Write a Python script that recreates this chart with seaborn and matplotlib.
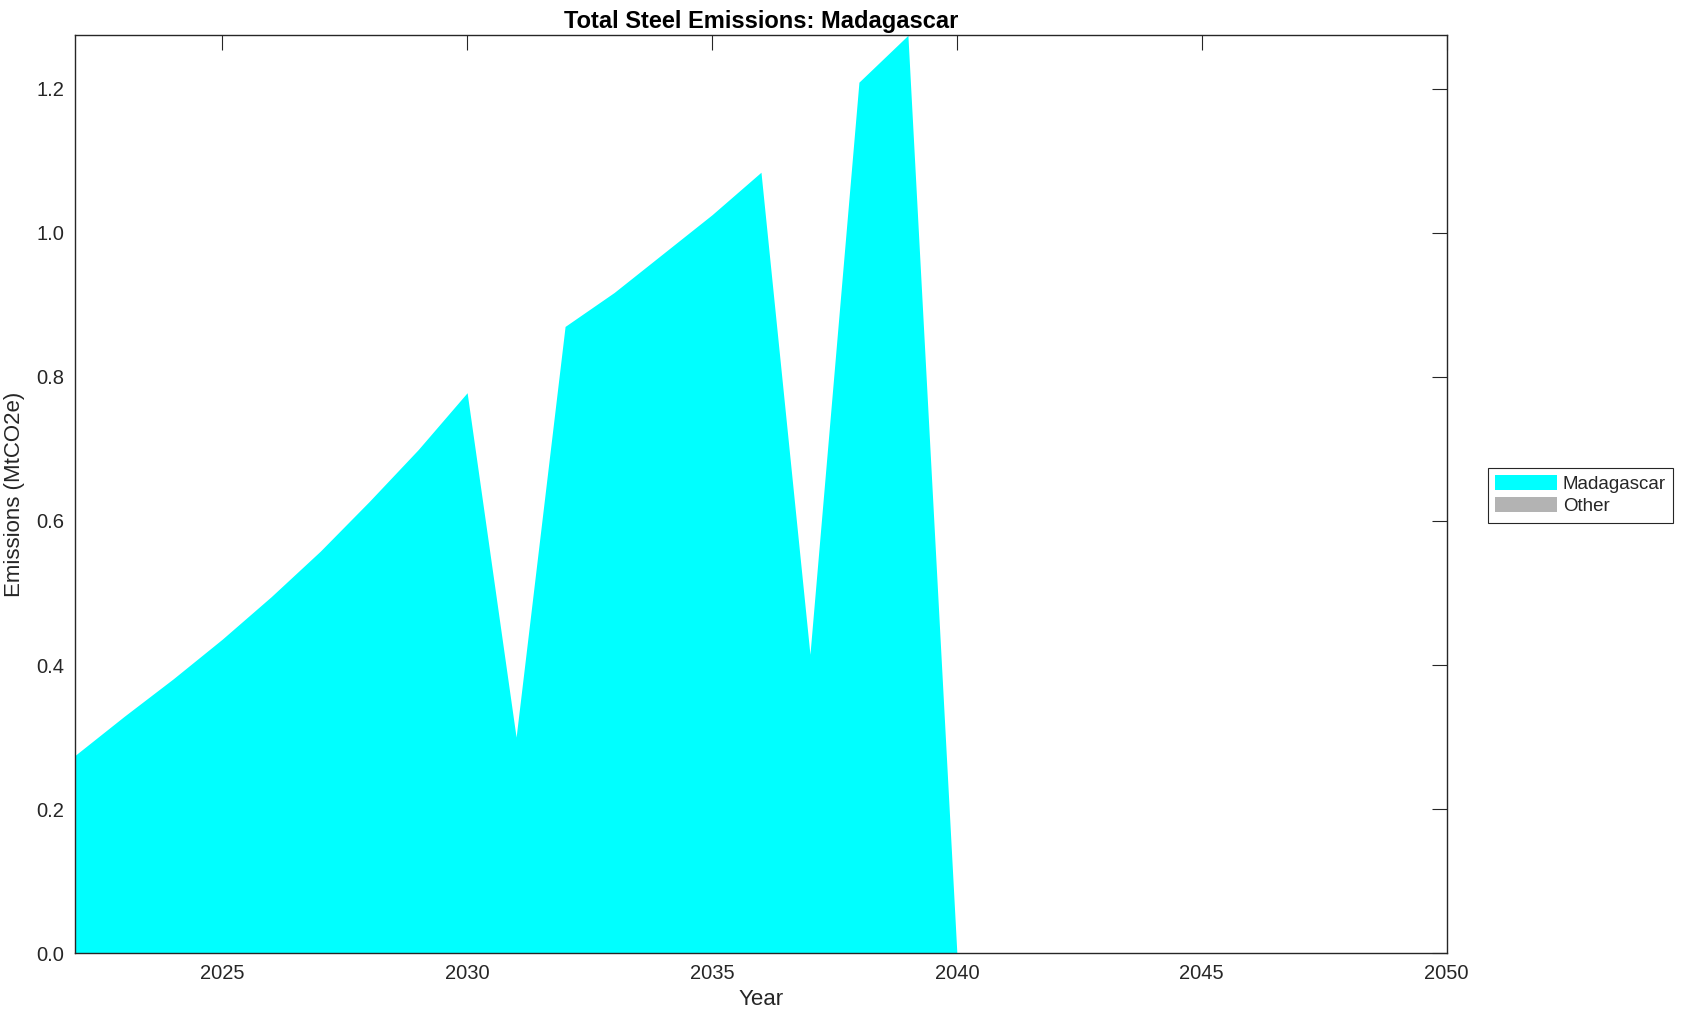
import matplotlib
matplotlib.use("Agg")
import matplotlib.pyplot as plt
import pandas as pd
import seaborn as sns

# Data
years = list(range(2022, 2051))
madagascar = [0.275, 0.329, 0.381, 0.436, 0.495, 0.558, 0.627, 0.699, 0.778,
              0.300, 0.870, 0.917, 0.971, 1.025, 1.084, 0.415, 1.209, 1.274,
              0.0, 0.0, 0.0, 0.0, 0.0, 0.0, 0.0, 0.0, 0.0, 0.0, 0.0]
other = [0.0] * len(years)
series_names = ["Madagascar", "Other"]
series_colors = ["#00ffff", "#b3b3b3"]
x_ticks = [2025, 2030, 2035, 2040, 2045, 2050]
y_ticks = [0.0, 0.2, 0.4, 0.6, 0.8, 1.0, 1.2]

df = pd.DataFrame({"Year": years, "Madagascar": madagascar, "Other": other})

sns.set_theme(style="white")
plt.rcParams["font.family"] = ["Liberation Sans", "DejaVu Sans"]
plt.rcParams["text.color"] = "#262626"
plt.rcParams["axes.labelcolor"] = "#262626"
plt.rcParams["xtick.color"] = "#262626"
plt.rcParams["ytick.color"] = "#262626"

fig = plt.figure(figsize=(16.89, 10.21), dpi=100)
ax = fig.add_axes([0.0446, 0.0663, 0.8119, 0.8991])

ax.stackplot(df.Year, df.Madagascar, df.Other, labels=series_names,
             colors=series_colors, linewidth=0)

ax.set_xlim(2022, 2050)
ax.set_ylim(0, df[series_names].sum(axis=1).max())
ax.set_xticks(x_ticks)
ax.set_yticks(y_ticks)
ax.set_yticklabels([f"{v:.1f}" for v in y_ticks])
ax.tick_params(direction="in", length=10.5, width=0.8, top=True, right=True,
               labelsize=14.5, pad=8)
for s in ax.spines.values():
    s.set_color("#262626")
    s.set_linewidth(1.0)

ax.set_title("Total Steel Emissions: Madagascar", fontsize=17,
             fontweight="bold", color="black", pad=5)
ax.set_xlabel("Year", fontsize=16, labelpad=4)
ax.set_ylabel("Emissions (MtCO2e)", fontsize=16, labelpad=8)

leg = ax.legend(loc="center left", bbox_to_anchor=(1.03, 0.499), fontsize=13.5,
                frameon=True, fancybox=False, edgecolor="#262626",
                framealpha=1, borderpad=0.4, labelspacing=0.2,
                handlelength=3.3, handleheight=0.85, handletextpad=0.3,
                borderaxespad=0)
leg.get_frame().set_linewidth(0.8)

fig.savefig("out.png", dpi=100)
